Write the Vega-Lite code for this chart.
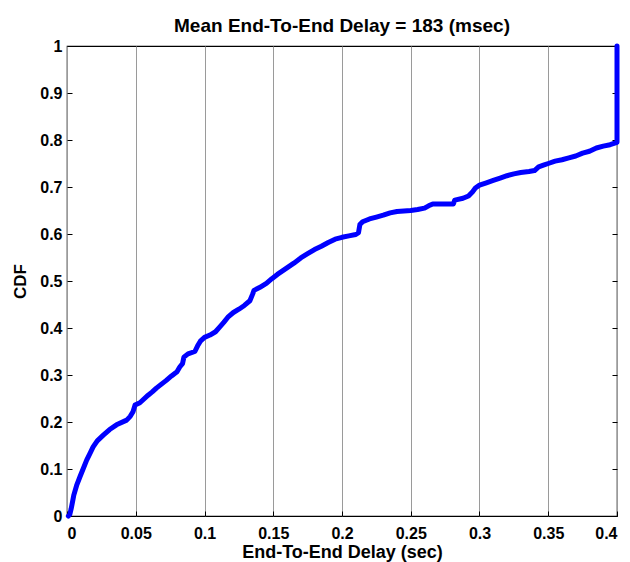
{
  "$schema": "https://vega.github.io/schema/vega-lite/v6.json",
  "width": 550,
  "height": 470,
  "autosize": {"type": "none"},
  "padding": {"left": 67, "top": 46, "right": 13, "bottom": 46},
  "background": "white",
  "title": {
    "text": "Mean End-To-End Delay = 183 (msec)",
    "font": "Liberation Sans",
    "fontSize": 19,
    "fontWeight": "bold",
    "color": "black",
    "anchor": "middle",
    "offset": 2
  },
  "config": {
    "view": {"stroke": "black", "strokeWidth": 1.2},
    "axis": {
      "labelFont": "Liberation Sans",
      "labelFontSize": 16,
      "labelFontWeight": "bold",
      "labelColor": "black",
      "titleFont": "Liberation Sans",
      "titleFontSize": 18,
      "titleFontWeight": "bold",
      "titleColor": "black",
      "tickColor": "black",
      "tickSize": -5,
      "domain": false
    }
  },
  "data": {
    "values": [
      {"i": 0, "delay": 0.001, "cdf": 0},
      {"i": 1, "delay": 0.002, "cdf": 0.003},
      {"i": 2, "delay": 0.003, "cdf": 0.015},
      {"i": 3, "delay": 0.004, "cdf": 0.03},
      {"i": 4, "delay": 0.005, "cdf": 0.045},
      {"i": 5, "delay": 0.007, "cdf": 0.065},
      {"i": 6, "delay": 0.0095, "cdf": 0.084},
      {"i": 7, "delay": 0.012, "cdf": 0.102},
      {"i": 8, "delay": 0.0143, "cdf": 0.119},
      {"i": 9, "delay": 0.017, "cdf": 0.135},
      {"i": 10, "delay": 0.019, "cdf": 0.147},
      {"i": 11, "delay": 0.022, "cdf": 0.16},
      {"i": 12, "delay": 0.0264, "cdf": 0.172},
      {"i": 13, "delay": 0.031, "cdf": 0.184},
      {"i": 14, "delay": 0.036, "cdf": 0.194},
      {"i": 15, "delay": 0.0434, "cdf": 0.204},
      {"i": 16, "delay": 0.046, "cdf": 0.212},
      {"i": 17, "delay": 0.048, "cdf": 0.222},
      {"i": 18, "delay": 0.0495, "cdf": 0.236},
      {"i": 19, "delay": 0.053, "cdf": 0.241},
      {"i": 20, "delay": 0.059, "cdf": 0.257},
      {"i": 21, "delay": 0.062, "cdf": 0.264},
      {"i": 22, "delay": 0.065, "cdf": 0.272},
      {"i": 23, "delay": 0.068, "cdf": 0.279},
      {"i": 24, "delay": 0.072, "cdf": 0.288},
      {"i": 25, "delay": 0.076, "cdf": 0.298},
      {"i": 26, "delay": 0.08, "cdf": 0.307},
      {"i": 27, "delay": 0.082, "cdf": 0.317},
      {"i": 28, "delay": 0.084, "cdf": 0.324},
      {"i": 29, "delay": 0.085, "cdf": 0.338},
      {"i": 30, "delay": 0.088, "cdf": 0.345},
      {"i": 31, "delay": 0.093, "cdf": 0.35},
      {"i": 32, "delay": 0.095, "cdf": 0.362},
      {"i": 33, "delay": 0.097, "cdf": 0.372},
      {"i": 34, "delay": 0.1, "cdf": 0.38},
      {"i": 35, "delay": 0.104, "cdf": 0.385},
      {"i": 36, "delay": 0.108, "cdf": 0.392},
      {"i": 37, "delay": 0.111, "cdf": 0.402},
      {"i": 38, "delay": 0.114, "cdf": 0.412},
      {"i": 39, "delay": 0.117, "cdf": 0.423},
      {"i": 40, "delay": 0.121, "cdf": 0.433},
      {"i": 41, "delay": 0.125, "cdf": 0.44},
      {"i": 42, "delay": 0.129, "cdf": 0.448},
      {"i": 43, "delay": 0.133, "cdf": 0.458},
      {"i": 44, "delay": 0.135, "cdf": 0.472},
      {"i": 45, "delay": 0.136, "cdf": 0.48},
      {"i": 46, "delay": 0.14, "cdf": 0.486},
      {"i": 47, "delay": 0.145, "cdf": 0.495},
      {"i": 48, "delay": 0.149, "cdf": 0.505},
      {"i": 49, "delay": 0.153, "cdf": 0.514},
      {"i": 50, "delay": 0.157, "cdf": 0.522},
      {"i": 51, "delay": 0.161, "cdf": 0.53},
      {"i": 52, "delay": 0.165, "cdf": 0.538},
      {"i": 53, "delay": 0.17, "cdf": 0.549},
      {"i": 54, "delay": 0.175, "cdf": 0.558},
      {"i": 55, "delay": 0.18, "cdf": 0.567},
      {"i": 56, "delay": 0.185, "cdf": 0.574},
      {"i": 57, "delay": 0.19, "cdf": 0.582},
      {"i": 58, "delay": 0.195, "cdf": 0.589},
      {"i": 59, "delay": 0.2, "cdf": 0.593},
      {"i": 60, "delay": 0.205, "cdf": 0.596},
      {"i": 61, "delay": 0.21, "cdf": 0.599},
      {"i": 62, "delay": 0.212, "cdf": 0.603},
      {"i": 63, "delay": 0.213, "cdf": 0.62},
      {"i": 64, "delay": 0.215, "cdf": 0.626},
      {"i": 65, "delay": 0.22, "cdf": 0.632},
      {"i": 66, "delay": 0.225, "cdf": 0.636},
      {"i": 67, "delay": 0.23, "cdf": 0.64},
      {"i": 68, "delay": 0.235, "cdf": 0.645},
      {"i": 69, "delay": 0.24, "cdf": 0.648},
      {"i": 70, "delay": 0.245, "cdf": 0.649},
      {"i": 71, "delay": 0.25, "cdf": 0.65},
      {"i": 72, "delay": 0.255, "cdf": 0.652},
      {"i": 73, "delay": 0.26, "cdf": 0.655},
      {"i": 74, "delay": 0.263, "cdf": 0.66},
      {"i": 75, "delay": 0.266, "cdf": 0.664},
      {"i": 76, "delay": 0.281, "cdf": 0.664},
      {"i": 77, "delay": 0.282, "cdf": 0.672},
      {"i": 78, "delay": 0.288, "cdf": 0.676},
      {"i": 79, "delay": 0.292, "cdf": 0.681},
      {"i": 80, "delay": 0.295, "cdf": 0.69},
      {"i": 81, "delay": 0.297, "cdf": 0.698},
      {"i": 82, "delay": 0.3, "cdf": 0.704},
      {"i": 83, "delay": 0.305, "cdf": 0.709},
      {"i": 84, "delay": 0.31, "cdf": 0.714},
      {"i": 85, "delay": 0.315, "cdf": 0.719},
      {"i": 86, "delay": 0.32, "cdf": 0.724},
      {"i": 87, "delay": 0.325, "cdf": 0.728},
      {"i": 88, "delay": 0.33, "cdf": 0.731},
      {"i": 89, "delay": 0.336, "cdf": 0.733},
      {"i": 90, "delay": 0.34, "cdf": 0.735},
      {"i": 91, "delay": 0.343, "cdf": 0.743},
      {"i": 92, "delay": 0.347, "cdf": 0.747},
      {"i": 93, "delay": 0.35, "cdf": 0.75},
      {"i": 94, "delay": 0.355, "cdf": 0.755},
      {"i": 95, "delay": 0.36, "cdf": 0.758},
      {"i": 96, "delay": 0.365, "cdf": 0.762},
      {"i": 97, "delay": 0.37, "cdf": 0.766},
      {"i": 98, "delay": 0.375, "cdf": 0.772},
      {"i": 99, "delay": 0.38, "cdf": 0.776},
      {"i": 100, "delay": 0.385, "cdf": 0.783},
      {"i": 101, "delay": 0.39, "cdf": 0.787},
      {"i": 102, "delay": 0.395, "cdf": 0.79},
      {"i": 103, "delay": 0.4, "cdf": 0.795},
      {"i": 104, "delay": 0.4, "cdf": 1.0}
    ]
  },
  "layer": [
    {
      "mark": {"type": "line", "color": "#0000ff", "strokeWidth": 5, "strokeCap": "round", "strokeJoin": "round"},
      "encoding": {
        "x": {
          "field": "delay",
          "type": "quantitative",
          "scale": {"domain": [0, 0.4], "nice": false, "zero": false},
          "axis": {
            "title": "End-To-End Delay (sec)",
            "values": [0, 0.05, 0.1, 0.15, 0.2, 0.25, 0.3, 0.35, 0.4],
            "labelExpr": "'' + datum.value",
            "labelPadding": 14,
            "titlePadding": 2,
            "grid": true,
            "gridColor": "#9a9a9a",
            "gridWidth": 1
          }
        },
        "y": {
          "field": "cdf",
          "type": "quantitative",
          "scale": {"domain": [0, 1], "nice": false},
          "axis": {
            "title": "CDF",
            "titleFontSize": 17,
            "orient": "left",
            "values": [0, 0.1, 0.2, 0.3, 0.4, 0.5, 0.6, 0.7, 0.8, 0.9, 1],
            "labelExpr": "'' + datum.value",
            "labelPadding": 10,
            "titlePadding": 10,
            "grid": false
          }
        },
        "order": {"field": "i", "type": "quantitative"}
      }
    },
    {
      "mark": {"type": "line", "opacity": 0},
      "encoding": {
        "x": {"field": "delay", "type": "quantitative", "scale": {"domain": [0, 0.4], "nice": false, "zero": false}},
        "y": {
          "field": "cdf",
          "type": "quantitative",
          "scale": {"domain": [0, 1], "nice": false},
          "axis": {
            "orient": "right",
            "title": null,
            "values": [0, 0.1, 0.2, 0.3, 0.4, 0.5, 0.6, 0.7, 0.8, 0.9, 1],
            "labels": false,
            "grid": false
          }
        },
        "order": {"field": "i", "type": "quantitative"}
      }
    }
  ],
  "resolve": {"scale": {"y": "independent"}}
}
